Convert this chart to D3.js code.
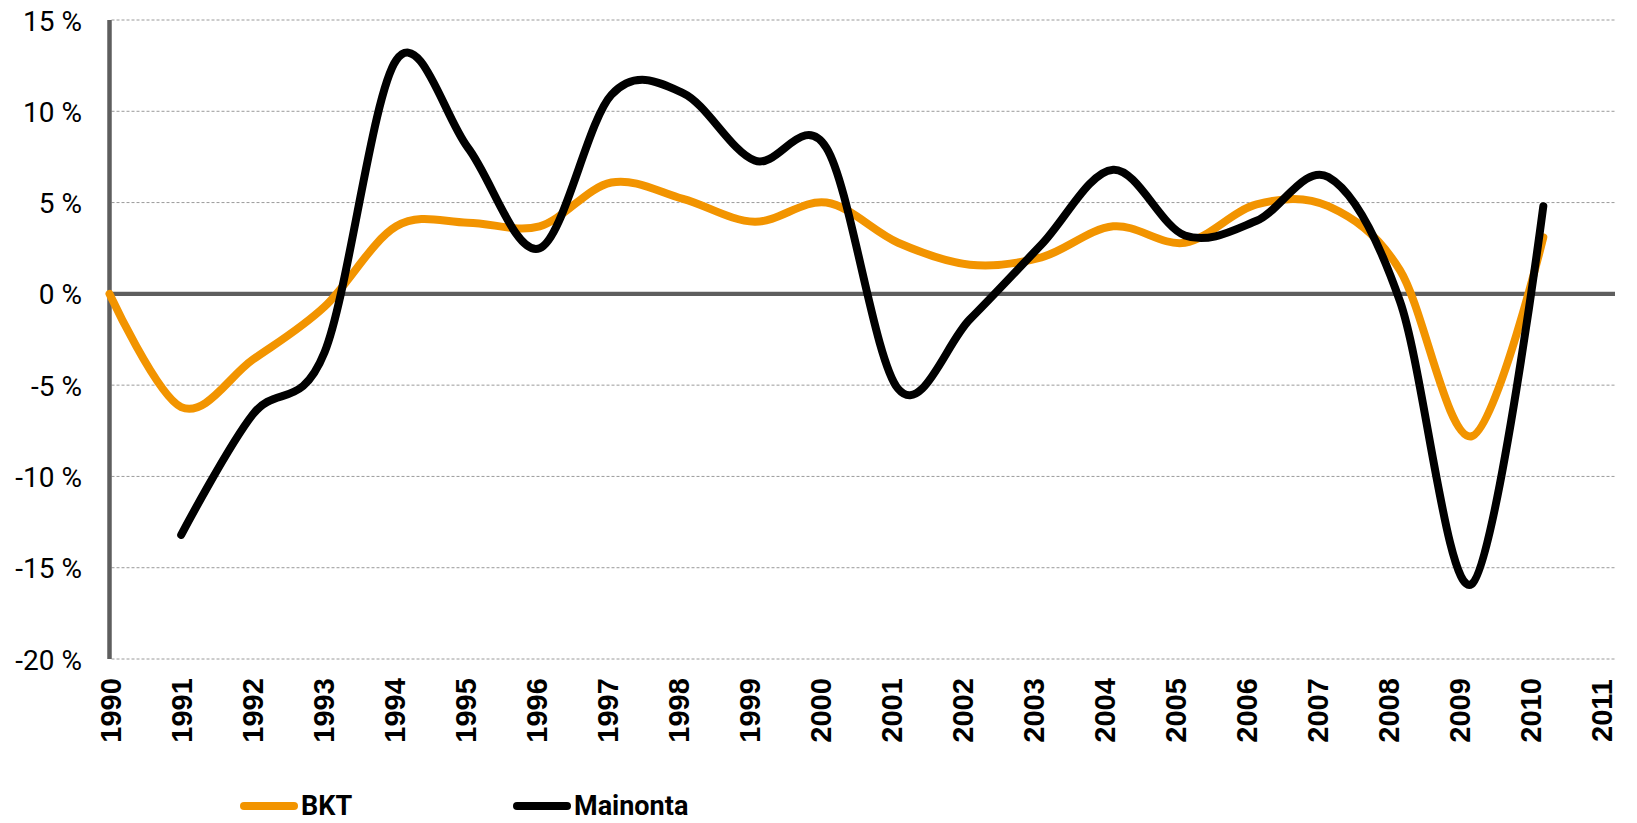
<!DOCTYPE html>
<html>
<head>
<meta charset="utf-8">
<script src="https://cdn.jsdelivr.net/npm/d3@7"></script>
<style>
  html, body { margin: 0; padding: 0; background: #fff; }
  svg { display: block; }
</style>
</head>
<body>
<svg id="chart" width="1637" height="823"></svg>
<script>
// ---- data ----
const years = [1990, 1991, 1992, 1993, 1994, 1995, 1996, 1997, 1998, 1999, 2000,
               2001, 2002, 2003, 2004, 2005, 2006, 2007, 2008, 2009, 2010, 2011];
const bkt = [0, -6.2, -3.6, -0.7, 3.7, 3.9, 3.7, 6.1, 5.2, 3.95, 5.0,
             2.8, 1.6, 2.0, 3.7, 2.8, 4.9, 4.8, 1.3, -7.8, 3.1, null];
const mainonta = [null, -13.2, -6.6, -3.2, 12.8, 8.0, 2.5, 10.9, 11.0, 7.3, 8.0,
                  -5.2, -1.4, 2.7, 6.8, 3.2, 4.0, 6.4, -0.4, -15.9, 4.8, null];
const yTicks = [15, 10, 5, 0, -5, -10, -15, -20];
const seriesNames = ["BKT", "Mainonta"];
const seriesColors = ["#F29400", "#000000"];

(function () {
const svg = d3.select("#chart");
const pl = 109.5, pr = 1615, pt = 20, pb = 659;

const x = d3.scalePoint().domain(years).range([pl, pr]);
const xLabel = d3.scalePoint().domain(years).range([110.8, 1602]);
const y = d3.scaleLinear().domain([-20, 15]).range([pb, pt]);

// gridlines
svg.append("g")
  .selectAll("line")
  .data(yTicks.filter(d => d !== 0))
  .join("line")
  .attr("x1", pl + 2).attr("x2", pr)
  .attr("y1", d => y(d)).attr("y2", d => y(d))
  .attr("stroke", "#9a9a9a")
  .attr("stroke-width", 1)
  .attr("stroke-dasharray", "3,2");

// y axis labels
const yAxis = d3.axisLeft(y).tickValues(yTicks).tickSize(0).tickPadding(0)
  .tickFormat(d => d + " %");
svg.append("g")
  .attr("transform", "translate(82,0)")
  .call(yAxis)
  .call(g => g.select(".domain").remove())
  .call(g => g.selectAll("text")
    .attr("font-family", "Roboto, 'Noto Sans', sans-serif")
    .attr("font-size", 28)
    .attr("fill", "#000")
    .attr("dy", "0.36em"));

// x axis labels (rotated)
svg.append("g")
  .selectAll("text")
  .data(years)
  .join("text")
  .attr("transform", d => `translate(${xLabel(d)},710.5) rotate(-90)`)
  .attr("text-anchor", "middle")
  .attr("dy", "0.36em")
  .attr("font-family", "'Liberation Sans', Arial, sans-serif")
  .attr("font-weight", "bold")
  .attr("font-size", 29)
  .attr("fill", "#000")
  .text(d => d);

// y axis line
svg.append("line")
  .attr("x1", pl).attr("x2", pl)
  .attr("y1", pt).attr("y2", pb)
  .attr("stroke", "#5e5e5e").attr("stroke-width", 4.5);

// zero line
svg.append("line")
  .attr("x1", pl).attr("x2", pr)
  .attr("y1", y(0)).attr("y2", y(0))
  .attr("stroke", "#5e5e5e").attr("stroke-width", 4.3);

// lines
const line = d3.line()
  .defined(d => d.v !== null)
  .x(d => x(d.year))
  .y(d => y(d.v))
  .curve(d3.curveCatmullRom.alpha(0));

[bkt, mainonta].forEach((arr, i) => {
  const pts = years.map((yr, j) => ({ year: yr, v: arr[j] })).filter(d => d.v !== null);
  svg.append("path")
    .datum(pts)
    .attr("d", line)
    .attr("fill", "none")
    .attr("stroke", seriesColors[i])
    .attr("stroke-width", 8)
    .attr("stroke-linecap", "round")
    .attr("stroke-linejoin", "round");
});

// legend
const legendX = [240, 513];
const legend = svg.append("g");
seriesNames.forEach((name, i) => {
  legend.append("line")
    .attr("x1", legendX[i] + 4).attr("x2", legendX[i] + 54)
    .attr("y1", 806).attr("y2", 806)
    .attr("stroke", seriesColors[i]).attr("stroke-width", 8)
    .attr("stroke-linecap", "round");
  legend.append("text")
    .attr("x", legendX[i] + 61).attr("y", 815)
    .attr("font-family", "Roboto, 'Noto Sans', sans-serif")
    .attr("font-weight", "bold")
    .attr("font-size", 27)
    .attr("fill", "#000")
    .text(name);
});
})();
</script>
</body>
</html>
